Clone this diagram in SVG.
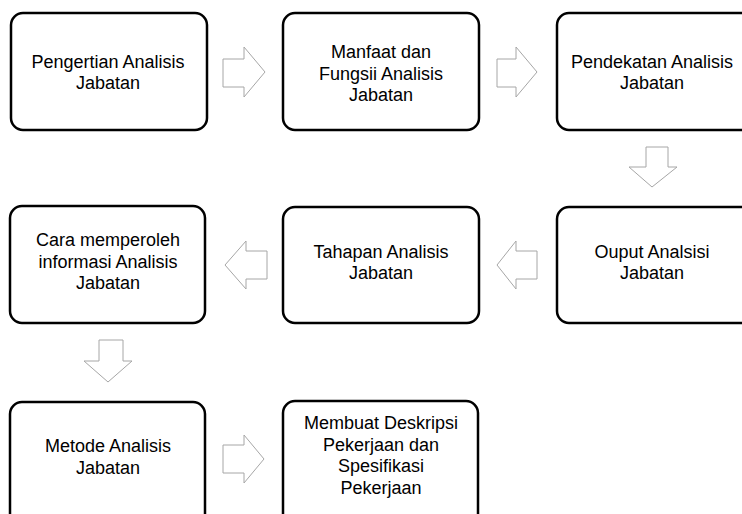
<svg xmlns="http://www.w3.org/2000/svg" width="742" height="514" viewBox="0 0 742 514">
<style>
.box{fill:#fff;stroke:#000;stroke-width:2.5}
.arr{fill:#fff;stroke:#a6a6a6;stroke-width:1}
text{font-family:"Liberation Sans",Arial,sans-serif;font-size:18px;fill:#000;text-anchor:middle}
</style>
<rect width="742" height="514" fill="#fff"/>
<g id="connectors">
<path class="arr" d="M223,59 H244 V47 L265,72 L244,97 V87 H223 Z"/>
<path class="arr" d="M497,59 H516 V47 L537,72 L516,97 V87 H497 Z"/>
<path class="arr" d="M646,147 H668 V167 H677 L652,187 L629,167 H646 Z"/>
<path class="arr" d="M537,251 H516 V241 L497,265 L516,289 V279 H537 Z"/>
<path class="arr" d="M267,251 H246 V241 L225,265 L246,289 V279 H267 Z"/>
<path class="arr" d="M99,340 H123 V361 H132 L108,382 L84,361 H99 Z"/>
<path class="arr" d="M223,445 H244 V435 L264,459 L244,483 V473 H223 Z"/>
</g>
<g id="n1"><rect class="box" x="11" y="13" width="196" height="117" rx="12"/>
<text x="108" y="68">Pengertian Analisis</text><text x="108" y="89">Jabatan</text></g>
<g id="n2"><rect class="box" x="283" y="13" width="196" height="117" rx="12"/>
<text x="381" y="58">Manfaat dan</text><text x="381" y="80">Fungsii Analisis</text><text x="381" y="101">Jabatan</text></g>
<g id="n3"><rect class="box" x="557" y="13" width="196" height="117" rx="12"/>
<text x="652" y="68">Pendekatan Analisis</text><text x="652" y="89">Jabatan</text></g>
<g id="n4"><rect class="box" x="557" y="207" width="196" height="116" rx="12"/>
<text x="652" y="258">Ouput Analsisi</text><text x="652" y="279">Jabatan</text></g>
<g id="n5"><rect class="box" x="283" y="207" width="196" height="116" rx="12"/>
<text x="381" y="258">Tahapan Analisis</text><text x="381" y="279">Jabatan</text></g>
<g id="n6"><rect class="box" x="10" y="206" width="195" height="117" rx="12"/>
<text x="108" y="246">Cara memperoleh</text><text x="108" y="268">informasi Analisis</text><text x="108" y="289">Jabatan</text></g>
<g id="n7"><rect class="box" x="10" y="402" width="195" height="130" rx="12"/>
<text x="108" y="452">Metode Analisis</text><text x="108" y="474">Jabatan</text></g>
<g id="n8"><rect class="box" x="283" y="401" width="195" height="130" rx="12"/>
<text x="381" y="429">Membuat Deskripsi</text><text x="381" y="451">Pekerjaan dan</text><text x="381" y="472">Spesifikasi</text><text x="381" y="494">Pekerjaan</text></g>
</svg>
